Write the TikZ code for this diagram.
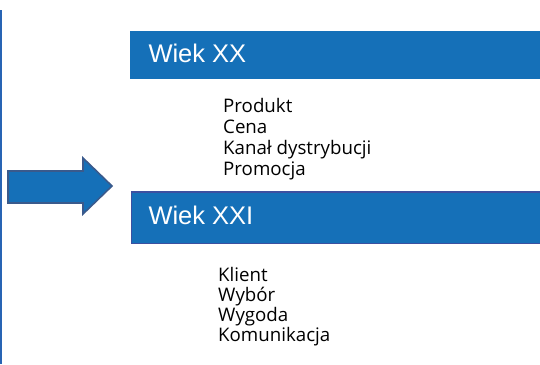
\documentclass[tikz,border=0pt]{standalone}
\usepackage{fontspec}
\setmainfont{Liberation Sans}
\newfontfamily\listfont{Open Sans}
\definecolor{bandblue}{RGB}{21,112,184}
\definecolor{banddark}{RGB}{60,80,160}
\definecolor{arrowedge}{RGB}{58,90,140}
\definecolor{ruleblue}{RGB}{40,100,180}
\tikzset{
  band/.style={rectangle, fill=bandblue, inner sep=0pt, anchor=north west},
  bandtitle/.style={anchor=base west, inner sep=0pt, text=white, font=\fontsize{25.5}{28}\selectfont},
  item/.style={anchor=base west, inner sep=0pt, font=\listfont\fontsize{18.7}{22}\selectfont}
}
\begin{document}
\begin{tikzpicture}[x=1pt,y=-1pt]
  \useasboundingbox (0,0) rectangle (540,364);

  % left rule
  \coordinate (ruletop) at (1.2,10);
  \coordinate (rulebot) at (1.2,364);
  \draw[ruleblue, line width=2pt] (ruletop) -- (rulebot);

  % block arrow
  \draw[fill=bandblue, draw=arrowedge, line width=1.6pt, line join=miter]
    (8,171) -- (83,171) -- (83,158) -- (112,186) -- (83,214) -- (83,203) -- (8,203) -- cycle;

  % Wiek XX
  \node[band, minimum width=410pt, minimum height=48pt] (xx) at (130,31) {};
  \node[bandtitle] (xxtitle) at (148.3,62.7) {Wiek XX};
  \foreach \t [count=\i] in {Produkt, Cena, Kanał dystrybucji, Promocja}
    \node[item] (xx-\i) at (223,112.6+20.8*\i-20.8) {\t};

  % Wiek XXI
  \node[band, draw=banddark, line width=1.2pt, minimum width=411pt, minimum height=51.5pt] (xxi) at (131,191.3) {};
  \node[bandtitle] (xxititle) at (148.3,224.3) {Wiek XXI};
  \foreach \t [count=\i] in {Klient, Wybór, Wygoda, Komunikacja}
    \node[item] (xxi-\i) at (218,281.3+20*\i-20) {\t};
\end{tikzpicture}
\end{document}
